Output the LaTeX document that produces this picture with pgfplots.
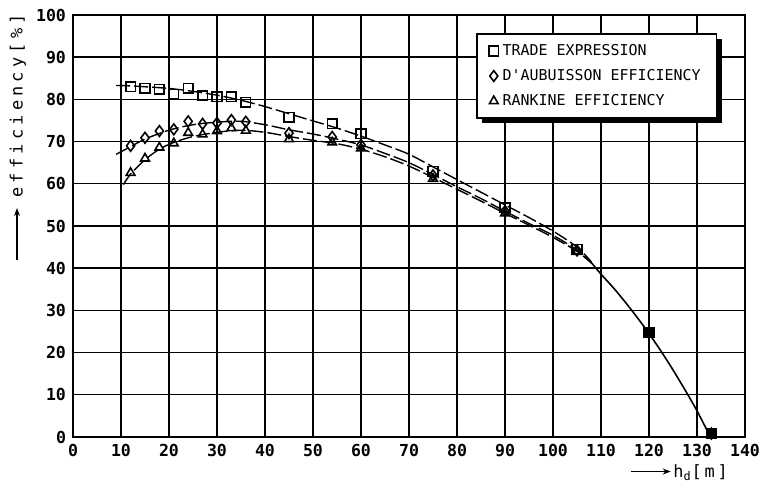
\documentclass[border=0pt]{standalone}
\usepackage{fontspec}
\setmainfont{DejaVu Sans Mono}
\usepackage{pgfplots}
\pgfplotsset{compat=1.18}
\usetikzlibrary{shadows,arrows.meta}
\begin{document}
\begin{tikzpicture}
\begin{axis}[name=ax,
  scale only axis, width=336bp, height=211bp,
  xmin=0, xmax=140, ymin=0, ymax=100,
  xtick={0,10,...,140}, ytick={0,10,...,100},
  grid=major, grid style={black, line width=0.7bp},
  axis line style={black, line width=1bp},
  tick align=inside, major tick length=3bp, tick style={black, line width=0.7bp},
  /pgf/number format/assume math mode=true,
  ticklabel style={font=\fontsize{8.3}{10}\selectfont\bfseries},
  every axis y label/.style={at={(axis description cs:-0.082,0.71)}, rotate=90, anchor=center},
  every axis x label/.style={at={(axis description cs:0.985,-0.095)}, anchor=base east},
  ylabel={\fontsize{8.5}{10}\selectfont\tikz[baseline=-0.6ex]\draw[-{Stealth[length=4bp,width=3bp]}, line width=0.6bp] (0,0)--(26bp,0);\hspace{5bp}{\addfontfeature{LetterSpace=25}efficiency[\%]}},
  xlabel={\fontsize{8.5}{10}\selectfont\tikz[baseline=-0.6ex]\draw[-{Stealth[length=4bp,width=3bp]}, line width=0.6bp] (0,0)--(20bp,0);\hspace{1bp}h\textsubscript{d}[\,m\,]},
  legend style={at={(0.60,0.957)}, anchor=north west, draw=black, line width=0.8bp, fill=white,
    drop shadow={shadow xshift=2.5bp, shadow yshift=-2.5bp, fill=black, opacity=1},
    font=\fontsize{7.5}{9}\selectfont, row sep=1.5bp, inner xsep=6bp, inner ysep=3bp},
  legend cell align=left,
]
% fitted curves
\addplot[forget plot, smooth, line width=0.7bp, dash pattern=on 7bp off 2bp] coordinates {
(9,83.3)(12,83.2)(15,83.0)(20,82.6)(25,81.9)(30,81.0)(35,79.8)(40,78.3)(45,76.6)(50,74.9)(55,73.2)(60,71.3)(65,69.2)(70,67.0)(75,64.0)(80,61.0)(85,58.0)(90,55.0)(95,52.0)(100,48.8)(105,45.0)(108,41.5)};
\addplot[forget plot, smooth, line width=0.7bp, dash pattern=on 7bp off 2bp] coordinates {
(9,67.0)(12,68.8)(15,70.6)(20,72.7)(25,74.0)(30,74.6)(35,74.8)(40,74.0)(45,72.8)(50,71.8)(55,70.6)(60,69.2)(65,67.2)(70,65.0)(75,62.2)(80,59.3)(85,56.5)(90,53.5)(95,50.6)(100,47.8)(105,44.3)(108,41.3)};
\addplot[forget plot, smooth, line width=0.7bp, dash pattern=on 7bp off 2bp] coordinates {
(10.5,59.8)(12,62.3)(15,65.7)(18,68.2)(21,69.8)(25,71.2)(30,72.2)(35,72.7)(40,72.2)(45,71.2)(50,70.3)(55,69.5)(60,68.2)(65,66.4)(70,64.2)(75,61.5)(80,58.7)(85,55.9)(90,53.0)(95,50.2)(100,47.3)(105,44.0)(108,41.2)};
\addplot[forget plot, smooth, line width=0.8bp] coordinates {
(108,41.3)(110,38.6)(113,34.8)(116,30.6)(119,26.1)(122,21.2)(125,15.9)(128,10.2)(130,6.2)(132,1.8)};
% measured points
\addplot[only marks, mark=square, mark size=2.4bp, mark options={fill=white, line width=0.8bp, solid}] coordinates {
(12,83.0)(15,82.6)(18,82.4)(21,81.2)(24,82.6)(27,80.9)(30,80.6)(33,80.6)(36,79.3)(45,75.8)(54,74.2)(60,71.9)(75,63.0)(90,54.3)(105,44.5)(120,24.7)(133,0.8)};
\addlegendentry{TRADE EXPRESSION}
\addplot[only marks, mark=diamond, mark size=2.7bp, mark options={fill=white, line width=0.8bp, solid}] coordinates {
(12,69.0)(15,70.9)(18,72.5)(21,72.9)(24,74.8)(27,74.2)(30,74.4)(33,75.1)(36,74.7)(45,72.0)(54,71.1)(60,69.2)(75,62.0)(90,53.5)(105,44.2)(120,24.7)(133,0.8)};
\addlegendentry{D\textquotesingle AUBUISSON EFFICIENCY}
\addplot[only marks, mark=triangle, mark size=2.5bp, mark options={fill=white, line width=0.8bp, solid}] coordinates {
(12,62.6)(15,66.0)(18,68.6)(21,69.6)(24,72.1)(27,71.7)(30,72.5)(33,73.2)(36,72.6)(45,70.6)(54,69.8)(60,68.4)(75,61.2)(90,53.0)(105,43.9)(120,24.7)(133,0.8)};
\addlegendentry{RANKINE EFFICIENCY}
\addplot[forget plot, only marks, mark=square*, mark size=2.4bp, mark options={fill=black, solid}] coordinates {(120,24.7)(133,0.8)};
\end{axis}
\pgfresetboundingbox
\path ([shift={(-36.5bp,-25bp)}]ax.south west) rectangle ([shift={(9.5bp,7.5bp)}]ax.north east);
\end{tikzpicture}
\end{document}
